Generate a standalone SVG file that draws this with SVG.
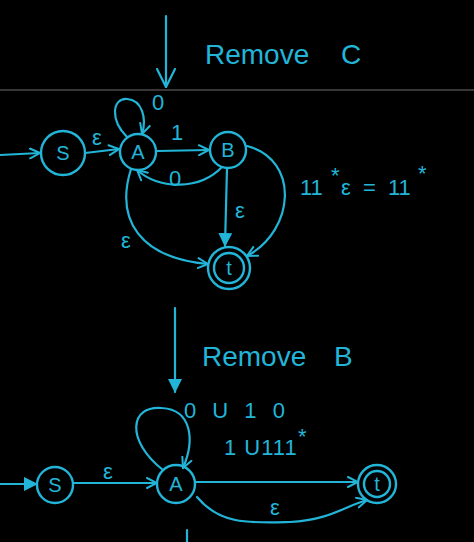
<svg xmlns="http://www.w3.org/2000/svg" width="474" height="542" viewBox="0 0 474 542">
<defs>
<marker id="open" viewBox="0 0 12 12" refX="11" refY="6" markerWidth="12" markerHeight="12" markerUnits="userSpaceOnUse" orient="auto">
<path d="M1,1 L11,6 L1,11" fill="none" stroke="#22b5d8" stroke-width="2" stroke-linecap="round"/>
</marker>
<marker id="bigopen" viewBox="0 0 20 20" refX="19" refY="10" markerWidth="20" markerHeight="20" markerUnits="userSpaceOnUse" orient="auto">
<path d="M1,1 L19,10 L1,19" fill="none" stroke="#22b5d8" stroke-width="2.2" stroke-linecap="round"/>
</marker>
<marker id="filled" viewBox="0 0 14 14" refX="13" refY="7" markerWidth="14" markerHeight="14" markerUnits="userSpaceOnUse" orient="auto">
<path d="M0,0 L14,7 L0,14 Z" fill="#22b5d8"/>
</marker>
</defs>
<style>
.st{fill:none;stroke:#22b5d8;stroke-width:2.4}
.ed{fill:none;stroke:#22b5d8;stroke-width:2.2;stroke-linecap:round}
.lb{fill:#22b5d8;font-family:"Liberation Sans",sans-serif;font-size:22px}
.nm{fill:#22b5d8;font-family:"Liberation Sans",sans-serif;font-size:20px;text-anchor:middle}
.tt{fill:#22b5d8;font-family:"Liberation Sans",sans-serif;font-size:28px}
</style>
<rect width="474" height="542" fill="#000"/>
<line x1="0" y1="90" x2="474" y2="90" stroke="#4a4a4a" stroke-width="1.5"/>
<g id="connectors">
<line class="ed" x1="166" y1="16" x2="166" y2="87" marker-end="url(#bigopen)"/>
<path class="ed" d="M0,155 L40,153" marker-end="url(#open)"/>
<path class="ed" d="M85,153 L119,149" marker-end="url(#open)"/>
<path class="ed" d="M127,137 C110,120 112,98 127,99 C142,100 147,118 142,134" marker-end="url(#open)"/>
<path class="ed" d="M157,151 L209,150" marker-end="url(#open)"/>
<path class="ed" d="M222,167 C200,190 160,190 137,170" marker-end="url(#open)"/>
<path class="ed" d="M227,168 L225,246" marker-end="url(#filled)"/>
<path class="ed" d="M131,169 C115,220 140,258 208,264" marker-end="url(#open)"/>
<path class="ed" d="M247,146 C300,160 295,230 247,256" marker-end="url(#open)"/>
<line class="ed" x1="175" y1="308" x2="175" y2="392" marker-end="url(#filled)"/>
<path class="ed" d="M0,484 L37,484" marker-end="url(#filled)"/>
<path class="ed" d="M73,483 L157,483" marker-end="url(#open)"/>
<path class="ed" d="M163,470 C125,440 130,405 162,408 C192,410 195,440 183,468" marker-end="url(#open)"/>
<path class="ed" d="M195,482 L358,482" marker-end="url(#open)"/>
<path class="ed" d="M197,497 C220,525 250,523 290,522 C330,520 345,506 367,500" marker-end="url(#open)"/>
<line class="ed" x1="187" y1="530" x2="187" y2="542"/>
</g>
<g id="S1"><circle class="st" cx="63" cy="153" r="22"/><text class="nm" x="63" y="160">S</text></g>
<g id="A1"><circle class="st" cx="138" cy="152" r="18"/><text class="nm" x="138" y="159">A</text></g>
<g id="B1"><circle class="st" cx="228" cy="150" r="18"/><text class="nm" x="228" y="157">B</text></g>
<g id="t1"><circle class="st" cx="229" cy="268" r="21"/><circle class="st" cx="229" cy="268" r="15"/><text class="nm" x="229" y="275">t</text></g>
<g id="S2"><circle class="st" cx="55" cy="485" r="18"/><text class="nm" x="55" y="492">S</text></g>
<g id="A2"><circle class="st" cx="176" cy="484" r="19"/><text class="nm" x="176" y="491">A</text></g>
<g id="t2"><circle class="st" cx="377" cy="484" r="19"/><circle class="st" cx="377" cy="484" r="13"/><text class="nm" x="377" y="491">t</text></g>
<g id="labels">
<text class="tt" x="205" y="64">Remove</text>
<text class="tt" x="341" y="64">C</text>
<text class="tt" x="202" y="366">Remove</text>
<text class="tt" x="334" y="366">B</text>
<text class="lb" x="97" y="145" text-anchor="middle">ε</text>
<text class="lb" x="158" y="110" text-anchor="middle">0</text>
<text class="lb" x="177" y="140" text-anchor="middle">1</text>
<text class="lb" x="175" y="186" text-anchor="middle">0</text>
<text class="lb" x="240" y="218" text-anchor="middle">ε</text>
<text class="lb" x="126" y="248" text-anchor="middle">ε</text>
<text class="lb" x="300" y="195" font-size="26">11</text>
<text class="lb" x="331" y="183" font-size="15">*</text>
<text class="lb" x="341" y="195" font-size="26">ε</text>
<text class="lb" x="363" y="195" font-size="26">=</text>
<text class="lb" x="388" y="195" font-size="26">11</text>
<text class="lb" x="418" y="181" font-size="15">*</text>
<text class="lb" x="108" y="479" text-anchor="middle">ε</text>
<text class="lb" x="184" y="418" letter-spacing="5">0 U 1 0</text>
<text class="lb" x="224" y="455" letter-spacing="1">1 U111</text>
<text class="lb" x="298" y="444" font-size="14">*</text>
<text class="lb" x="275" y="515" text-anchor="middle">ε</text>
</g>
</svg>
